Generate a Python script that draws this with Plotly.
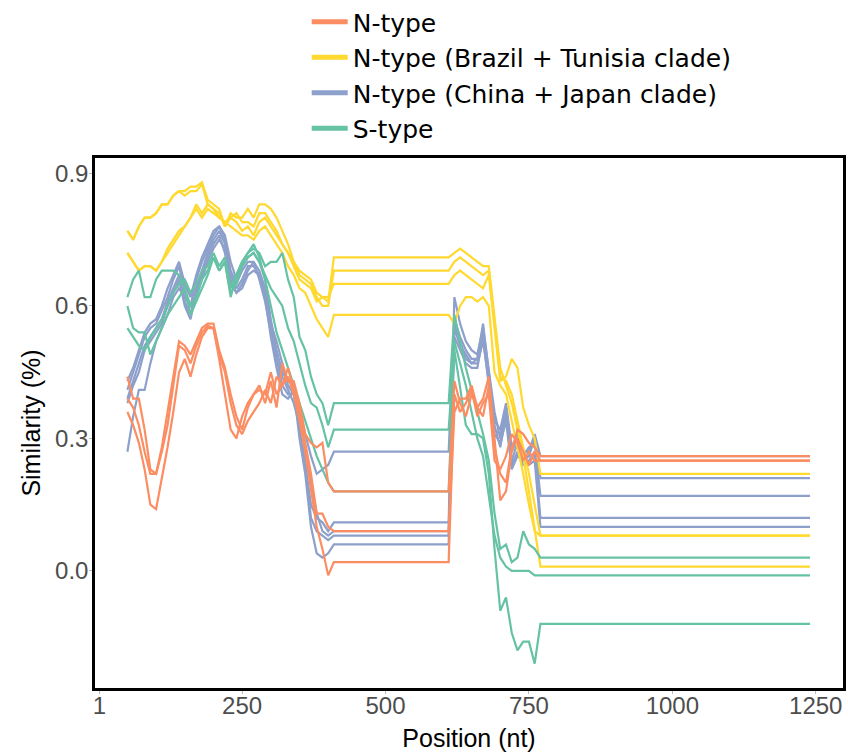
import plotly.graph_objects as go

# ---------------- data ----------------
position_a = list(range(50, 420, 10))      # 50..410
gap_end = 610
position_b = list(range(620, 780, 10))     # 620..770
seq_end = 1240

# N-type
n1_a = [0.44,0.39,0.39,0.32,0.23,0.22,0.28,0.36,0.44,0.52,0.51,0.49,0.52,0.55,0.56,0.56,0.50,0.46,0.40,0.35,0.32,0.37,0.40,0.42,0.38,0.43,0.37,0.47,0.43,0.43,0.38,0.31,0.29,0.28,0.29,0.20,0.18]
n2_a = [0.39,0.37,0.33,0.27,0.22,0.22,0.27,0.33,0.42,0.51,0.50,0.47,0.51,0.54,0.555,0.55,0.49,0.45,0.38,0.33,0.31,0.34,0.36,0.38,0.41,0.38,0.44,0.42,0.46,0.41,0.36,0.29,0.22,0.13,0.13,0.10,0.09]
n3_a = [0.36,0.33,0.29,0.23,0.15,0.14,0.21,0.28,0.36,0.45,0.48,0.44,0.49,0.53,0.55,0.55,0.48,0.40,0.32,0.30,0.35,0.38,0.40,0.41,0.40,0.45,0.40,0.42,0.44,0.40,0.34,0.27,0.19,0.10,0.05,-0.01,0.02]
n1_b = [0.43,0.38,0.35,0.40,0.37,0.39,0.44,0.30,0.16,0.18,0.27,0.32,0.31,0.29,0.28,0.26]
n2_b = [0.36,0.39,0.39,0.42,0.37,0.35,0.42,0.28,0.22,0.20,0.28,0.30,0.27,0.24,0.27,0.25]
n3_b = [0.40,0.36,0.38,0.41,0.35,0.38,0.40,0.25,0.23,0.26,0.31,0.29,0.25,0.27,0.25,0.25]

# N-type (Brazil + Tunisia clade)
bt1_a = [0.77,0.75,0.78,0.80,0.80,0.81,0.83,0.83,0.85,0.86,0.85,0.86,0.86,0.875,0.83,0.82,0.81,0.78,0.81,0.80,0.80,0.82,0.80,0.83,0.83,0.82,0.80,0.77,0.74,0.70,0.68,0.67,0.66,0.63,0.62,0.61,0.71]
bt2_a = [0.77,0.75,0.78,0.80,0.80,0.81,0.83,0.83,0.85,0.86,0.86,0.87,0.87,0.88,0.84,0.83,0.82,0.78,0.80,0.81,0.79,0.79,0.78,0.81,0.81,0.79,0.77,0.74,0.72,0.70,0.67,0.66,0.65,0.62,0.60,0.60,0.68]
bt3_a = [0.72,0.70,0.68,0.69,0.69,0.68,0.70,0.73,0.75,0.77,0.78,0.80,0.83,0.81,0.83,0.82,0.80,0.79,0.80,0.79,0.77,0.78,0.76,0.79,0.80,0.78,0.76,0.74,0.72,0.69,0.66,0.65,0.64,0.61,0.62,0.62,0.65]
bt4_a = [0.72,0.70,0.68,0.69,0.69,0.68,0.70,0.72,0.74,0.76,0.78,0.80,0.82,0.80,0.82,0.81,0.80,0.79,0.78,0.77,0.76,0.76,0.75,0.77,0.78,0.76,0.74,0.72,0.69,0.67,0.64,0.63,0.60,0.57,0.55,0.53,0.58]
bt1_b = [0.72,0.73,0.72,0.71,0.70,0.69,0.69,0.58,0.46,0.42,0.38,0.32,0.26,0.18,0.10,0.01]
bt2_b = [0.70,0.71,0.70,0.69,0.68,0.67,0.68,0.56,0.44,0.43,0.40,0.34,0.28,0.22,0.15,0.08]
bt3_b = [0.67,0.68,0.67,0.66,0.65,0.64,0.67,0.55,0.43,0.44,0.48,0.46,0.37,0.33,0.30,0.22]
bt4_b = [0.56,0.60,0.62,0.62,0.61,0.62,0.60,0.45,0.42,0.40,0.34,0.28,0.22,0.15,0.09,0.08]

# N-type (China + Japan clade)
cj1_a = [0.43,0.46,0.50,0.54,0.56,0.57,0.60,0.64,0.67,0.70,0.65,0.62,0.67,0.71,0.74,0.77,0.78,0.76,0.70,0.66,0.69,0.71,0.72,0.70,0.66,0.57,0.50,0.45,0.43,0.42,0.34,0.25,0.15,0.12,0.11,0.09,0.11]
cj2_a = [0.41,0.45,0.49,0.53,0.55,0.56,0.59,0.62,0.66,0.69,0.63,0.60,0.66,0.70,0.73,0.76,0.78,0.75,0.68,0.65,0.68,0.70,0.70,0.68,0.64,0.55,0.48,0.42,0.40,0.40,0.32,0.24,0.12,0.09,0.08,0.07,0.08]
cj3_a = [0.39,0.43,0.47,0.51,0.53,0.55,0.57,0.61,0.64,0.67,0.61,0.58,0.64,0.68,0.72,0.75,0.77,0.74,0.67,0.64,0.66,0.69,0.69,0.67,0.62,0.53,0.46,0.40,0.39,0.41,0.30,0.22,0.10,0.04,0.03,0.04,0.06]
cj4_a = [0.38,0.42,0.45,0.50,0.52,0.54,0.56,0.60,0.63,0.66,0.60,0.57,0.63,0.67,0.71,0.74,0.76,0.72,0.65,0.63,0.65,0.68,0.70,0.66,0.61,0.54,0.48,0.44,0.41,0.38,0.33,0.27,0.20,0.13,0.09,0.08,0.09]
cj5_a = [0.27,0.35,0.41,0.41,0.47,0.52,0.55,0.58,0.62,0.64,0.62,0.60,0.62,0.66,0.70,0.73,0.75,0.73,0.66,0.63,0.64,0.67,0.68,0.67,0.63,0.56,0.52,0.47,0.42,0.40,0.37,0.31,0.26,0.22,0.23,0.24,0.27]
cj1_b = [0.62,0.56,0.52,0.50,0.49,0.55,0.46,0.36,0.30,0.37,0.27,0.30,0.25,0.26,0.30,0.21]
cj2_b = [0.57,0.53,0.50,0.48,0.48,0.54,0.44,0.33,0.28,0.35,0.25,0.29,0.26,0.28,0.29,0.17]
cj3_b = [0.55,0.51,0.49,0.47,0.47,0.52,0.43,0.32,0.31,0.36,0.24,0.27,0.24,0.25,0.27,0.12]
cj4_b = [0.53,0.50,0.47,0.46,0.46,0.53,0.42,0.31,0.29,0.34,0.23,0.26,0.25,0.24,0.25,0.10]
cj5_b = [0.56,0.52,0.48,0.47,0.48,0.56,0.45,0.34,0.32,0.38,0.28,0.31,0.27,0.27,0.31,0.26]

# S-type
s1_a = [0.62,0.66,0.68,0.62,0.62,0.66,0.68,0.68,0.68,0.67,0.64,0.58,0.61,0.64,0.67,0.71,0.68,0.70,0.62,0.67,0.70,0.72,0.73,0.72,0.69,0.70,0.70,0.72,0.66,0.62,0.53,0.50,0.44,0.40,0.38,0.33,0.38]
s2_a = [0.60,0.55,0.54,0.54,0.49,0.52,0.55,0.58,0.60,0.62,0.64,0.60,0.62,0.66,0.68,0.71,0.68,0.70,0.63,0.65,0.69,0.71,0.72,0.70,0.67,0.64,0.62,0.60,0.55,0.52,0.47,0.42,0.38,0.37,0.33,0.28,0.32]
s3_a = [0.55,0.53,0.51,0.50,0.53,0.55,0.57,0.60,0.63,0.65,0.66,0.63,0.65,0.68,0.69,0.72,0.69,0.71,0.64,0.67,0.70,0.72,0.74,0.71,0.66,0.60,0.54,0.50,0.46,0.42,0.38,0.34,0.30,0.26,0.23,0.20,0.18]
s1_b = [0.58,0.52,0.46,0.41,0.36,0.31,0.25,0.13,0.05,0.06,0.02,0.03,0.09,0.06,0.05,0.03]
s2_b = [0.50,0.42,0.33,0.31,0.31,0.30,0.22,0.05,-0.09,-0.06,-0.14,-0.18,-0.16,-0.16,-0.21,-0.12]
s3_b = [0.52,0.47,0.42,0.36,0.30,0.26,0.17,0.08,0.03,0.01,0.00,0.00,0.00,0.00,-0.01,-0.01]

groups = [
    ("N-type (China + Japan clade)", "#8DA0CB", [(cj1_a, cj1_b), (cj2_a, cj2_b), (cj3_a, cj3_b), (cj4_a, cj4_b), (cj5_a, cj5_b)], 3),
    ("N-type (Brazil + Tunisia clade)", "#FFD92F", [(bt1_a, bt1_b), (bt2_a, bt2_b), (bt3_a, bt3_b), (bt4_a, bt4_b)], 2),
    ("S-type", "#66C2A5", [(s1_a, s1_b), (s2_a, s2_b), (s3_a, s3_b)], 4),
    ("N-type", "#FC8D62", [(n1_a, n1_b), (n2_a, n2_b), (n3_a, n3_b)], 1),
]

x_full = position_a + [gap_end] + position_b + [seq_end]

fig = go.Figure()
for name, color, lines, rank in groups:
    for a, b in lines:
        y_full = a + [a[-1]] + b + [b[-1]]
        fig.add_trace(go.Scatter(x=x_full, y=y_full, mode="lines",
                                 line=dict(color=color, width=2.2),
                                 legendgroup=name, showlegend=False,
                                 hoverinfo="skip"))
    # legend-only entry with thick key line
    fig.add_trace(go.Scatter(x=[None], y=[None], mode="lines", name=name,
                             line=dict(color=color, width=5),
                             legendgroup=name, legendrank=rank))

font_family = "Liberation Sans, Arial, sans-serif"
fig.update_layout(
    width=848, height=754,
    margin=dict(l=95, r=5, t=158, b=66, autoexpand=False),
    paper_bgcolor="white", plot_bgcolor="white",
    font=dict(family=font_family, color="black"),
    legend=dict(orientation="v", x=0.283, xanchor="left", y=1.30, yanchor="top",
                font=dict(size=25, color="black", family="DejaVu Sans, sans-serif"),
                itemwidth=36, tracegroupgap=0, bgcolor="rgba(0,0,0,0)"),
    showlegend=True,
)
fig.update_xaxes(range=[-6.5, 1297.5], tickvals=[1, 250, 500, 750, 1000, 1250],
                 showgrid=False, zeroline=False, showline=True, mirror=True,
                 linecolor="black", linewidth=2.5, ticks="outside", ticklen=3,
                 tickcolor="#BBBBBB", tickfont=dict(size=24, color="#4D4D4D"),
                 ticklabelstandoff=-9,
                 title=dict(text="Position (nt)", font=dict(size=25, color="black"), standoff=12))
fig.update_yaxes(range=[-0.265, 0.935], tickvals=[0.0, 0.3, 0.6, 0.9], tickformat=".1f",
                 showgrid=False, zeroline=False, showline=True, mirror=True,
                 linecolor="black", linewidth=2.5, ticks="outside", ticklen=3,
                 tickcolor="#BBBBBB", tickfont=dict(size=24, color="#4D4D4D"),
                 ticklabelstandoff=-4,
                 title=dict(text="Similarity (%)", font=dict(size=25, color="black"), standoff=8))

fig.write_html("out.html", config={"displayModeBar": False},
               post_script="document.body.style.margin='0';")
